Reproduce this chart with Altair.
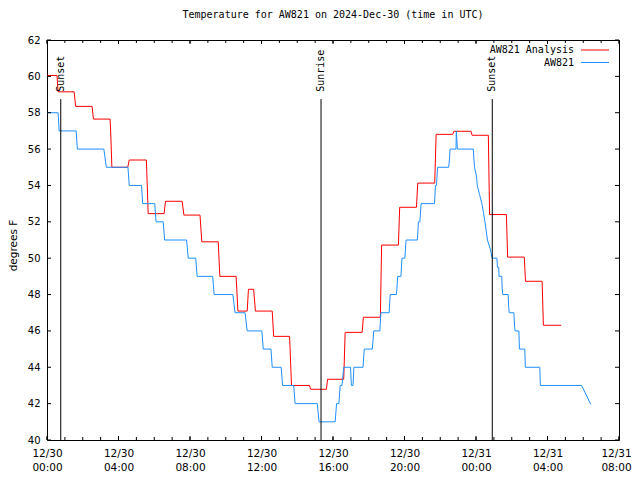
import altair as alt
import pandas as pd

title_text = "Temperature for AW821 on 2024-Dec-30 (time in UTC)"
y_title = "degrees F"
series_names = ["AW821 Analysis", "AW821"]
series_colors = ["#ff0000", "#1e90ff"]

# hours since 2024-12-30 00:00 UTC, temperature in F
analysis_hours = [0.00, 0.56, 0.62, 1.52, 1.60, 2.52, 2.60, 3.53, 3.56, 3.63, 4.52, 4.60,
                  5.56, 5.66, 6.55, 6.63, 7.56, 7.66, 8.56, 8.66, 9.58, 9.67, 10.58, 10.68,
                  11.20, 11.27, 11.56, 11.66, 12.60, 12.68, 13.57, 13.68, 14.68, 14.75,
                  15.63, 15.70, 16.60, 16.68, 17.63, 17.70, 18.65, 18.72, 19.66, 19.73,
                  20.67, 20.74, 21.69, 21.77, 22.70, 22.76, 23.72, 23.78, 24.69, 24.76,
                  25.70, 25.77, 26.70, 26.77, 27.70, 27.77, 28.77]
analysis_temps = [60.05, 60.05, 59.15, 59.15, 58.35, 58.35, 57.65, 57.65, 57.05, 55.0, 55.0, 55.4,
                  55.4, 52.45, 52.45, 53.13, 53.13, 52.37, 52.37, 50.9, 50.9, 49.0, 49.0, 47.09,
                  47.09, 48.29, 48.29, 47.09, 47.09, 45.7, 45.7, 43.0, 43.0, 42.79,
                  42.79, 43.34, 43.34, 45.92, 45.92, 46.75, 46.75, 50.72, 50.72, 52.8,
                  52.8, 54.13, 54.13, 56.81, 56.81, 56.98, 56.98, 56.76, 56.76, 52.4,
                  52.4, 50.06, 50.06, 48.73, 48.73, 46.31, 46.31]

obs_hours = [0.00, 0.62, 0.68, 1.63, 1.70, 3.18, 3.32, 4.53, 4.60, 5.29, 5.35, 6.03, 6.10,
             6.50, 6.58, 7.81, 7.90, 8.32, 8.40, 9.27, 9.35, 10.40, 10.52, 11.08, 11.20,
             12.02, 12.10, 12.53, 12.60, 13.10, 13.18, 13.80, 13.88, 15.12, 15.22, 16.12,
             16.20, 16.33, 16.40, 16.50, 16.60, 16.98, 17.03, 17.12, 17.17, 17.68, 17.75,
             18.20, 18.28, 18.62, 18.68, 19.14, 19.20, 19.55, 19.62, 19.80, 19.86, 20.02,
             20.09, 20.72, 20.78, 20.86, 20.93, 21.68, 21.73, 21.79, 21.85, 22.47, 22.52,
             22.55, 22.88, 22.90, 22.96, 23.85, 23.88, 23.92, 24.03, 24.07, 24.20, 24.33,
             24.42, 24.50, 24.57, 24.64, 24.80, 24.90, 25.17, 25.20, 25.27, 25.29, 25.44,
             25.47, 25.50, 25.80, 25.83, 25.86, 26.12, 26.16, 26.19, 26.40, 26.43, 26.73,
             26.76, 27.57, 27.60, 29.91, 30.42]
obs_temps = [58.0, 58.0, 57.0, 57.0, 56.0, 56.0, 55.0, 55.0, 54.0, 54.0, 53.0, 53.0, 52.0,
             52.0, 51.0, 51.0, 50.0, 50.0, 49.0, 49.0, 48.0, 48.0, 47.0, 47.0, 46.0,
             46.0, 45.0, 45.0, 44.0, 44.0, 43.0, 43.0, 42.0, 42.0, 41.0, 41.0,
             42.0, 42.0, 43.0, 43.0, 44.0, 44.0, 43.0, 43.0, 44.0, 44.0, 45.0,
             45.0, 46.0, 46.0, 47.0, 47.0, 48.0, 48.0, 49.0, 49.0, 50.0, 50.0,
             51.0, 51.0, 52.0, 52.0, 53.0, 53.0, 54.0, 54.0, 55.0, 55.0, 55.5,
             56.0, 56.0, 57.0, 56.0, 56.0, 55.5, 55.0, 54.5, 54.0, 53.5, 53.0,
             52.5, 52.0, 51.5, 51.0, 50.5, 50.0, 50.0, 49.5, 49.5, 49.0, 49.0,
             48.25, 48.0, 48.0, 47.3, 47.0, 47.0, 46.2, 46.0, 46.0, 45.0, 45.0,
             44.0, 44.0, 43.0, 43.0, 41.96]

event_names = ["Sunset", "Sunrise", "Sunset"]
event_hours = [0.77, 15.33, 24.91]

x_major = [0, 4, 8, 12, 16, 20, 24, 28, 32]
x_major_dates = ["12/30", "12/30", "12/30", "12/30", "12/30", "12/30", "12/31", "12/31", "12/31"]
x_major_times = ["00:00", "04:00", "08:00", "12:00", "16:00", "20:00", "00:00", "04:00", "08:00"]
x_minor = list(range(0, 33))
y_ticks = [40, 42, 44, 46, 48, 50, 52, 54, 56, 58, 60, 62]

MONO = "DejaVu Sans Mono"
SANS = "DejaVu Sans"
W, H = 572, 400
MAJ, MIN = 4, 3

label_expr = " : ".join(
    f"datum.value == {h} ? ['{d}', '{t}']" for h, d, t in zip(x_major, x_major_dates, x_major_times)
) + " : ''"

xscale = alt.Scale(domain=[0, 32], nice=False, zero=False)
yscale = alt.Scale(domain=[40, 62], nice=False, zero=False)

xaxis = alt.Axis(values=x_major, labelExpr=label_expr, ticks=False, domain=False, grid=False,
                 labelFont=SANS, labelFontSize=10.5, labelPadding=8, labelLineHeight=14,
                 labelBaseline="top", labelFlush=False, labelOverlap=False, labelColor="black",
                 labelOffset=alt.condition(f"datum.value == {x_major[-1]}", alt.value(-3), alt.value(0)),
                 title=None)
yaxis = alt.Axis(values=y_ticks, ticks=False, domain=False, grid=False,
                 labelFont=SANS, labelFontSize=10, labelPadding=7, labelFlush=False,
                 labelOverlap=False, labelSeparation=0, labelColor="black", title=y_title,
                 titleFont=SANS, titleFontSize=10.5, titleFontWeight="normal",
                 titleColor="black", titlePadding=9, titleY=205)


def X(field):
    return alt.X(field, scale=xscale, axis=xaxis)


def Y(field):
    return alt.Y(field, scale=yscale, axis=yaxis)


series_df = [
    pd.DataFrame({"hour": analysis_hours, "temp": analysis_temps}),
    pd.DataFrame({"hour": obs_hours, "temp": obs_temps}),
]

layers = []
for i, df in enumerate(series_df):
    layers.append(alt.Chart(df).mark_line(color=series_colors[i], strokeWidth=1).encode(
        x=X("hour:Q"), y=Y("temp:Q")))

events = pd.DataFrame({"name": event_names, "hour": event_hours})
layers.append(alt.Chart(events).mark_rule(color="black", strokeWidth=1).encode(
    x=X("hour:Q"), y=alt.YDatum(58.75, scale=yscale, axis=yaxis), y2=alt.datum(40)))
layers.append(alt.Chart(events).mark_text(angle=270, align="left", baseline="middle",
                                          font=MONO, fontSize=10, color="black").encode(
    x=X("hour:Q"), y=alt.YDatum(59.15, scale=yscale, axis=yaxis), text="name:N"))

# inward ticks (gnuplot style, mirrored)
xmaj = pd.DataFrame({"hour": x_major})
xmin = pd.DataFrame({"hour": x_minor})
yt = pd.DataFrame({"temp": y_ticks})
for df, L in [(xmin, MIN), (xmaj, MAJ)]:
    layers.append(alt.Chart(df).mark_rule(color="black", strokeWidth=1).encode(
        x=X("hour:Q"), y=alt.value(H), y2=alt.value(H - L)))
    layers.append(alt.Chart(df).mark_rule(color="black", strokeWidth=1).encode(
        x=X("hour:Q"), y=alt.value(0), y2=alt.value(L)))
layers.append(alt.Chart(yt).mark_rule(color="black", strokeWidth=1).encode(
    y=Y("temp:Q"), x=alt.value(0), x2=alt.value(MAJ)))
layers.append(alt.Chart(yt).mark_rule(color="black", strokeWidth=1).encode(
    y=Y("temp:Q"), x=alt.value(W), x2=alt.value(W - MAJ)))

# key (top right, gnuplot style)
for i, name in enumerate(series_names):
    kdf = pd.DataFrame({"name": [name]})
    ky = 10 + 12.5 * i
    layers.append(alt.Chart(kdf).mark_text(align="right", baseline="middle", font=MONO,
                                           fontSize=10, color="black").encode(
        x=alt.value(527), y=alt.value(ky), text="name:N"))
    layers.append(alt.Chart(kdf).mark_rule(color=series_colors[i], strokeWidth=1).encode(
        x=alt.value(534), x2=alt.value(562), y=alt.value(ky)))

chart = alt.layer(*layers).properties(
    width=W, height=H,
    title=alt.Title(title_text, font=MONO, fontSize=10, fontWeight="normal", anchor="middle",
                    color="black", offset=5, baseline="bottom"),
    autosize=alt.AutoSizeParams(type="none"),
    padding={"left": 39, "top": 32, "right": 13, "bottom": 32},
    background="white",
).configure_view(stroke="black", strokeWidth=1).configure_axis(labelOverlap=False)

chart.save("out.html", embed_options={"renderer": "svg", "actions": False})
